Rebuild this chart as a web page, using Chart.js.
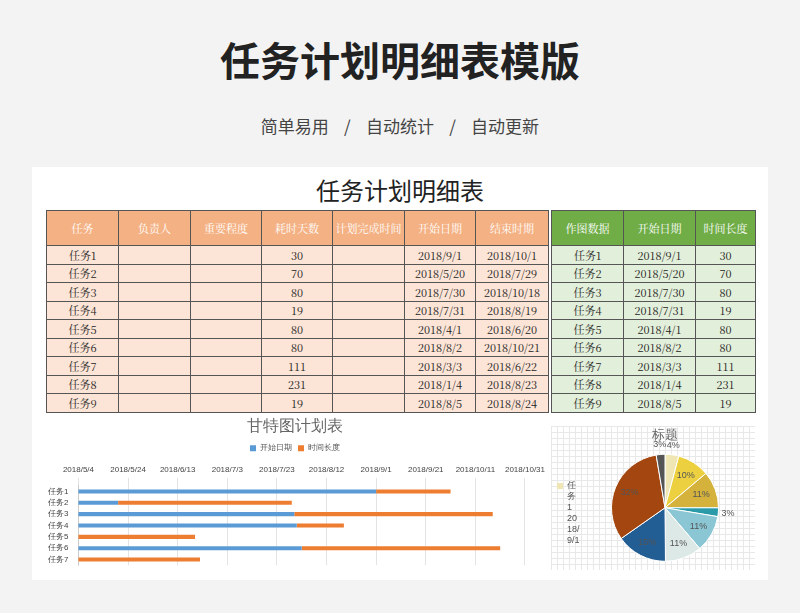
<!DOCTYPE html>
<html><head><meta charset="utf-8">
<script src="https://cdn.jsdelivr.net/npm/chart.js@4"></script>
<style>
body{margin:0;width:800px;height:613px;background:#f3f3f3;font-family:"Noto Sans CJK SC",sans-serif;overflow:hidden;position:relative}
#t1{position:absolute;top:30px;width:800px;text-align:center;font-size:40px;font-weight:bold;color:#222}
#t2{position:absolute;top:113px;width:800px;text-align:center;font-size:17px;color:#444;white-space:pre}
#card{position:absolute;left:32px;top:167px;width:736px;height:413px;background:#fff}
#ct{position:absolute;left:32px;top:172px;width:736px;text-align:center;font-size:24px;color:#222}
table{position:absolute;border-collapse:collapse;table-layout:fixed;font-family:"Noto Serif CJK SC","Noto Sans CJK SC",serif;font-size:11px}
td{border:1px solid #555;height:17.5px;padding:0;text-align:center;color:#222;white-space:nowrap;overflow:hidden}
th{border:1px solid #555;height:34px;padding:0;font-weight:normal;color:#fff;font-size:11px;white-space:nowrap;overflow:hidden}
#lt{left:46px;top:210px;width:502px}
#lt th{background:#f4b183}
#lt td{background:#fce4d6}
#rt{left:551px;top:210px;width:204px}
#rt th{background:#70ad47}
#rt td{background:#e2efda}
#g{position:absolute;left:46px;top:415px;width:502px;height:157px}
#p{position:absolute;left:551px;top:426px;width:204px;height:144px;
background-image:linear-gradient(#e8e8e8 1px,transparent 1px),linear-gradient(90deg,#e8e8e8 1px,transparent 1px);background-size:6px 6px}
</style></head><body>
<div id="t1">任务计划明细表模版</div>
<div id="t2">简单易用    /    自动统计    /    自动更新</div>
<div id="card"></div>
<div id="ct">任务计划明细表</div>
<table id="lt"><colgroup><col style="width:72px"><col style="width:72px"><col style="width:71px"><col style="width:71px"><col style="width:72px"><col style="width:71px"><col style="width:73px"></colgroup><thead><tr>
<th>任务</th><th>负责人</th><th>重要程度</th><th>耗时天数</th><th>计划完成时间</th><th>开始日期</th><th>结束时期</th>
</tr></thead><tbody id="lb"></tbody></table>
<table id="rt"><colgroup><col style="width:72px"><col style="width:72px"><col style="width:60px"></colgroup><thead><tr>
<th>作图数据</th><th>开始日期</th><th>时间长度</th>
</tr></thead><tbody id="rb"></tbody></table>
<div id="g"><canvas id="gc"></canvas></div>
<div id="p"><canvas id="pc"></canvas></div>
<script>
const tasks = ['任务1','任务2','任务3','任务4','任务5','任务6','任务7','任务8','任务9'];
const days = [30,70,80,19,80,80,111,231,19];
const startDates = ['2018/9/1','2018/5/20','2018/7/30','2018/7/31','2018/4/1','2018/8/2','2018/3/3','2018/1/4','2018/8/5'];
const endDates = ['2018/10/1','2018/7/29','2018/10/18','2018/8/19','2018/6/20','2018/10/21','2018/6/22','2018/8/23','2018/8/24'];
const pieColors = ['#efe6b3','#ecd040','#d4b23c','#2b9aa8','#8ac6d4','#dce9e6','#225d93','#a3460f','#555555'];

let lh='', rh='';
tasks.forEach((t,i)=>{
  lh += `<tr><td>${t}</td><td></td><td></td><td>${days[i]}</td><td></td><td>${startDates[i]}</td><td>${endDates[i]}</td></tr>`;
  rh += `<tr><td>${t}</td><td>${startDates[i]}</td><td>${days[i]}</td></tr>`;
});
document.getElementById('lb').innerHTML = lh;
document.getElementById('rb').innerHTML = rh;

// 日付を日数に変換
const toDay = s => { const [y,m,d]=s.split('/').map(Number); return Date.UTC(y,m-1,d)/86400000; };
const fmt = v => { const d=new Date(v*86400000); return d.getUTCFullYear()+'/'+(d.getUTCMonth()+1)+'/'+d.getUTCDate(); };
const xMin = toDay('2018/5/4'), xMax = toDay('2018/10/31');

new Chart(document.getElementById('gc'), {
  type:'bar',
  data:{labels:tasks, datasets:[
    {label:'开始日期', data:startDates.map(toDay), backgroundColor:'#5b9bd5', barPercentage:0.9, categoryPercentage:0.4},
    {label:'时间长度', data:startDates.map((s,i)=>[toDay(s),toDay(s)+days[i]]), backgroundColor:'#ed7d31', barPercentage:0.9, categoryPercentage:0.4}
  ]},
  options:{indexAxis:'y', responsive:true, maintainAspectRatio:false, animation:false,
    layout:{padding:{right:4}},
    scales:{
      x:{position:'top', min:xMin, max:xMax, ticks:{stepSize:20, callback:fmt, font:{size:8}, color:'#444', maxRotation:0}, grid:{color:'#e4e4e4'}, border:{display:false}},
      y:{stacked:true, max:'任务7', ticks:{autoSkip:false, font:{size:8}, color:'#444', padding:2}, grid:{display:false}}
    },
    plugins:{
      title:{display:true, text:'甘特图计划表', font:{size:16, weight:'normal'}, color:'#666', padding:{top:2,bottom:2}},
      legend:{labels:{boxWidth:6, boxHeight:6, font:{size:8}, color:'#555', padding:6}},
      tooltip:{enabled:false}
    }
  }
});

new Chart(document.getElementById('pc'), {
  type:'pie',
  data:{labels:tasks.map((t,i)=>t+' '+startDates[i]), datasets:[{data:days, backgroundColor:pieColors, borderColor:'#fff', borderWidth:1}]},
  options:{responsive:true, maintainAspectRatio:false, animation:false,
    layout:{padding:{left:60, right:36, bottom:2}},
    plugins:{
      title:{display:true, text:'标题', font:{size:13, weight:'normal'}, color:'#666', padding:{top:2,bottom:4}},
      legend:{display:false}, tooltip:{enabled:false}
    }
  },
  plugins:[{id:'pct', afterDatasetsDraw(c){
    const ctx=c.ctx, tot=days.reduce((a,b)=>a+b,0);
    ctx.save(); ctx.font='9px sans-serif'; ctx.fillStyle='#555'; ctx.textAlign='center'; ctx.textBaseline='middle';
    c.getDatasetMeta(0).data.forEach((a,i)=>{
      const m=(a.startAngle+a.endAngle)/2, r=a.outerRadius*(days[i]<40?1.18:0.72);
      ctx.fillText(Math.round(days[i]/tot*100)+'%', a.x+Math.cos(m)*r, a.y+Math.sin(m)*r);
    });
    ctx.textAlign='left'; ctx.fillStyle='#efe6b3'; ctx.fillRect(6,57,6,6);
    ctx.fillStyle='#555';
    ['任','务','1','20','18/','9/1'].forEach((s,i)=>ctx.fillText(s,16,60+i*11));
    ctx.restore();
  }}]
});
</script>
</body></html>
